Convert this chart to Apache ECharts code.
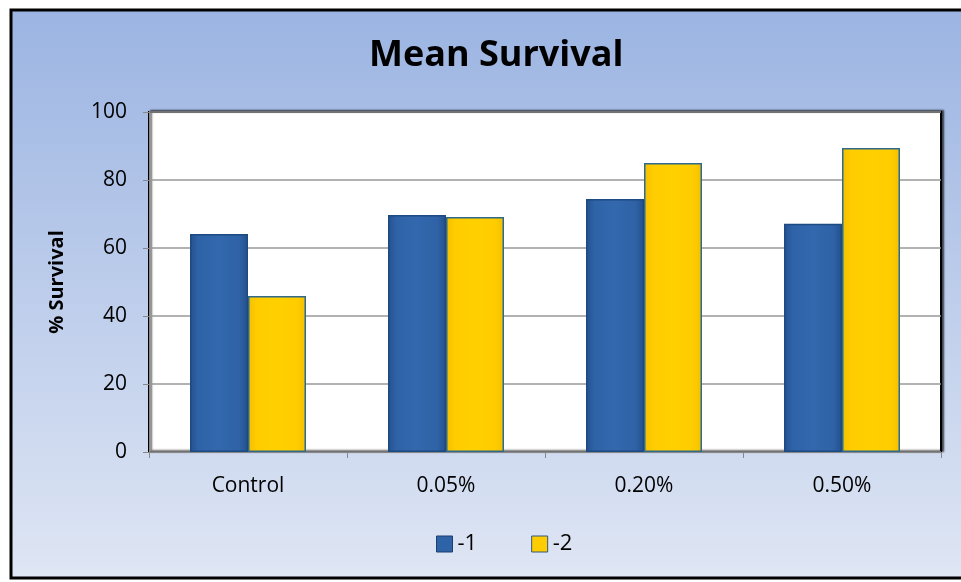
<!DOCTYPE html>
<html>
<head>
<meta charset="utf-8">
<script src="https://cdn.jsdelivr.net/npm/echarts@6/dist/echarts.min.js"></script>
<style>
  html, body { margin: 0; padding: 0; background: #fff; }
  #chart { width: 961px; height: 582px; }
</style>
</head>
<body>
<div id="chart"></div>
<script>
// categories and values
var categories = ['Control', '0.05%', '0.20%', '0.50%'];
var seriesOne = [64.1, 69.7, 74.4, 67.1];
var seriesTwo = [45.9, 69.1, 85.0, 89.4];
var yTicks = { min: 0, max: 100, interval: 20 };

var myChart = echarts.init(document.getElementById('chart'));

var blueFill = new echarts.graphic.LinearGradient(0, 0, 1, 0, [
  { offset: 0, color: '#24518f' },
  { offset: 0.15, color: '#2f63a8' },
  { offset: 0.5, color: '#3368ae' },
  { offset: 0.85, color: '#2f62a6' },
  { offset: 1, color: '#24518f' }
]);
var yellowFill = new echarts.graphic.LinearGradient(0, 0, 1, 0, [
  { offset: 0, color: '#f2bf00' },
  { offset: 0.15, color: '#ffcc00' },
  { offset: 0.5, color: '#ffd000' },
  { offset: 0.85, color: '#ffcc00' },
  { offset: 1, color: '#f2bf00' }
]);

var option = {
  backgroundColor: '#ffffff',
  animation: false,
  textStyle: { fontFamily: 'Open Sans' },
  graphic: [{
    type: 'rect',
    z: -10,
    shape: { x: 11, y: 10, width: 970, height: 568 },
    style: {
      fill: new echarts.graphic.LinearGradient(0, 0, 0, 1, [
        { offset: 0, color: '#9bb4e2' },
        { offset: 1, color: '#dfe6f4' }
      ]),
      stroke: '#000',
      lineWidth: 3
    }
  }],
  title: {
    text: 'Mean Survival',
    left: 364,
    top: 33,
    textStyle: { fontSize: 36, fontWeight: 'bold', color: '#000', fontFamily: 'Open Sans' }
  },
  legend: {
    bottom: 22,
    left: 431,
    itemWidth: 16,
    itemHeight: 16,
    itemGap: 54,
    textStyle: { fontSize: 22, color: '#000' },
    data: [
      { name: '-1', icon: 'rect', itemStyle: { color: '#2f63a8', borderColor: '#1d3f6e', borderWidth: 1 } },
      { name: '-2', icon: 'rect', itemStyle: { color: '#ffcc00', borderColor: '#31597e', borderWidth: 1 } }
    ]
  },
  grid: {
    left: 149, right: 20, top: 112, bottom: 130,
    show: true,
    backgroundColor: '#ffffff',
    borderColor: '#000',
    borderWidth: 2,
    shadowColor: 'rgba(0,0,0,0.6)',
    shadowBlur: 2,
    shadowOffsetX: 2,
    shadowOffsetY: -1
  },
  xAxis: {
    type: 'category',
    data: categories,
    axisLine: { lineStyle: { color: '#888', width: 1 } },
    axisTick: { show: true, length: 6, lineStyle: { color: '#888' } },
    axisLabel: { fontSize: 21, color: '#000', margin: 24 }
  },
  yAxis: {
    type: 'value',
    min: yTicks.min,
    max: yTicks.max,
    interval: yTicks.interval,
    name: '% Survival',
    nameLocation: 'middle',
    nameGap: 82,
    nameTextStyle: { fontSize: 20, fontWeight: 'bold', color: '#000' },
    axisLine: { show: true, lineStyle: { color: '#888', width: 1 } },
    axisTick: { show: true, length: 6, lineStyle: { color: '#888' } },
    axisLabel: { fontSize: 21, color: '#000', margin: 22 },
    splitLine: { lineStyle: { color: '#999', width: 1.5 } }
  },
  series: [{
    name: '-1',
    type: 'bar',
    data: seriesOne,
    barWidth: 58,
    barGap: '0%',
    itemStyle: { color: blueFill, borderColor: '#1d4a80', borderWidth: 1.5 }
  }, {
    name: '-2',
    type: 'bar',
    data: seriesTwo,
    barWidth: 58,
    barGap: '0%',
    itemStyle: { color: yellowFill, borderColor: '#2f6a8c', borderWidth: 1.5 }
  }]
};

myChart.setOption(option);
</script>
</body>
</html>
